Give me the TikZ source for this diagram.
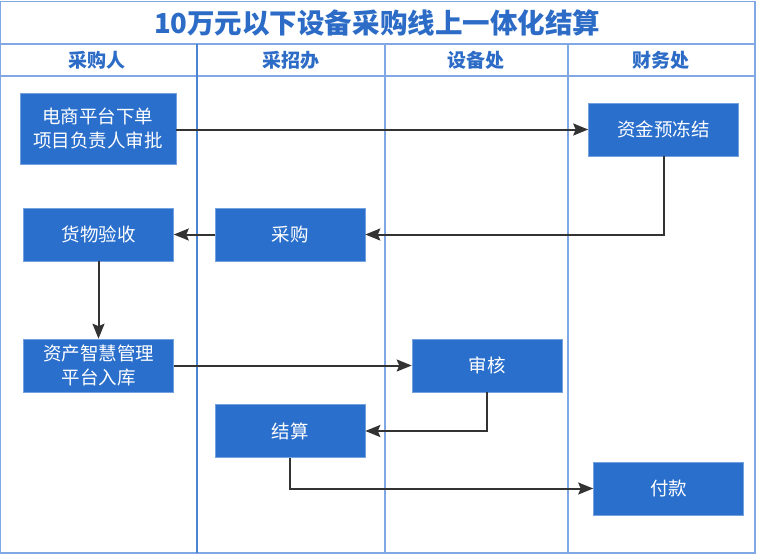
\documentclass[tikz,border=0pt]{standalone}
\usepackage{fontspec}
\setmainfont{Noto Sans CJK SC}
\usepackage{tikz}
\usetikzlibrary{arrows.meta}
\definecolor{boxblue}{HTML}{2A6FCC}
\definecolor{titleblue}{HTML}{2C6CC6}
\definecolor{gridblue}{HTML}{7FA8E4}
\definecolor{flowgray}{HTML}{333333}
\tikzset{
  task/.style={fill=boxblue,draw=boxblue!65!white,line width=0.6pt,text=white,
    minimum width=150pt,minimum height=53pt,inner sep=0pt,align=center,
    font=\fontsize{18.5}{24}\selectfont},
  flow/.style={draw=flowgray,line width=2pt,
    -{Stealth[length=15pt,width=12pt,inset=2.5pt]}},
  lane/.style={font=\bfseries\fontsize{19}{20}\selectfont,text=titleblue},
}

\begin{document}
\begin{tikzpicture}[x=1pt,y=-1pt]
  \useasboundingbox (0,0) rectangle (760,555);
  % swimlane frame
  \draw[gridblue,line width=1.8pt] (0,1.5) rectangle (755,553);
  \draw[gridblue,line width=1.8pt] (0,44) -- (755,44) (0,76) -- (755,76);
  \foreach \xl in {385,568}
    \draw[gridblue,line width=1.8pt] (\xl,44) -- (\xl,553);
  \draw[boxblue!85!white,line width=1.6pt] (197,44) -- (197,553);
  \node[font=\bfseries\fontsize{27.5}{30}\selectfont,text=titleblue] (title) at (377,23)
    {10万元以下设备采购线上一体化结算};
  \foreach \xc/\lab [count=\i] in {97/采购人,291/采招办,476/设备处,661/财务处}
    \node[lane] (lane\i) at (\xc,60) {\lab};
  % tasks
  \node[task,minimum width=156pt,minimum height=71pt] (order) at (98,128.5)
    {电商平台下单\\项目负责人审批};
  \node[task] (freeze) at (663.5,129.5) {资金预冻结};
  \node[task] (check) at (98.5,234.5) {货物验收};
  \node[task] (buy) at (290,234.5) {采购};
  \node[task] (stock) at (98.5,365.5) {资产智慧管理\\平台入库};
  \node[task] (audit) at (487,365.5) {审核};
  \node[task] (settle) at (290,431) {结算};
  \node[task] (pay) at (668.5,488.5) {付款};
  % connectors
  \draw[flow] (order.east |- freeze.west) -- (freeze.west);
  \draw[flow] (freeze.south) |- (buy.east);
  \draw[flow] (buy.west) -- (check.east);
  \draw[flow] (check.south) -- (stock.north);
  \draw[flow] (stock.east) -- (audit.west);
  \draw[flow] (audit.south) |- (settle.east);
  \draw[flow] (settle.south) |- (pay.west);
\end{tikzpicture}
\end{document}
